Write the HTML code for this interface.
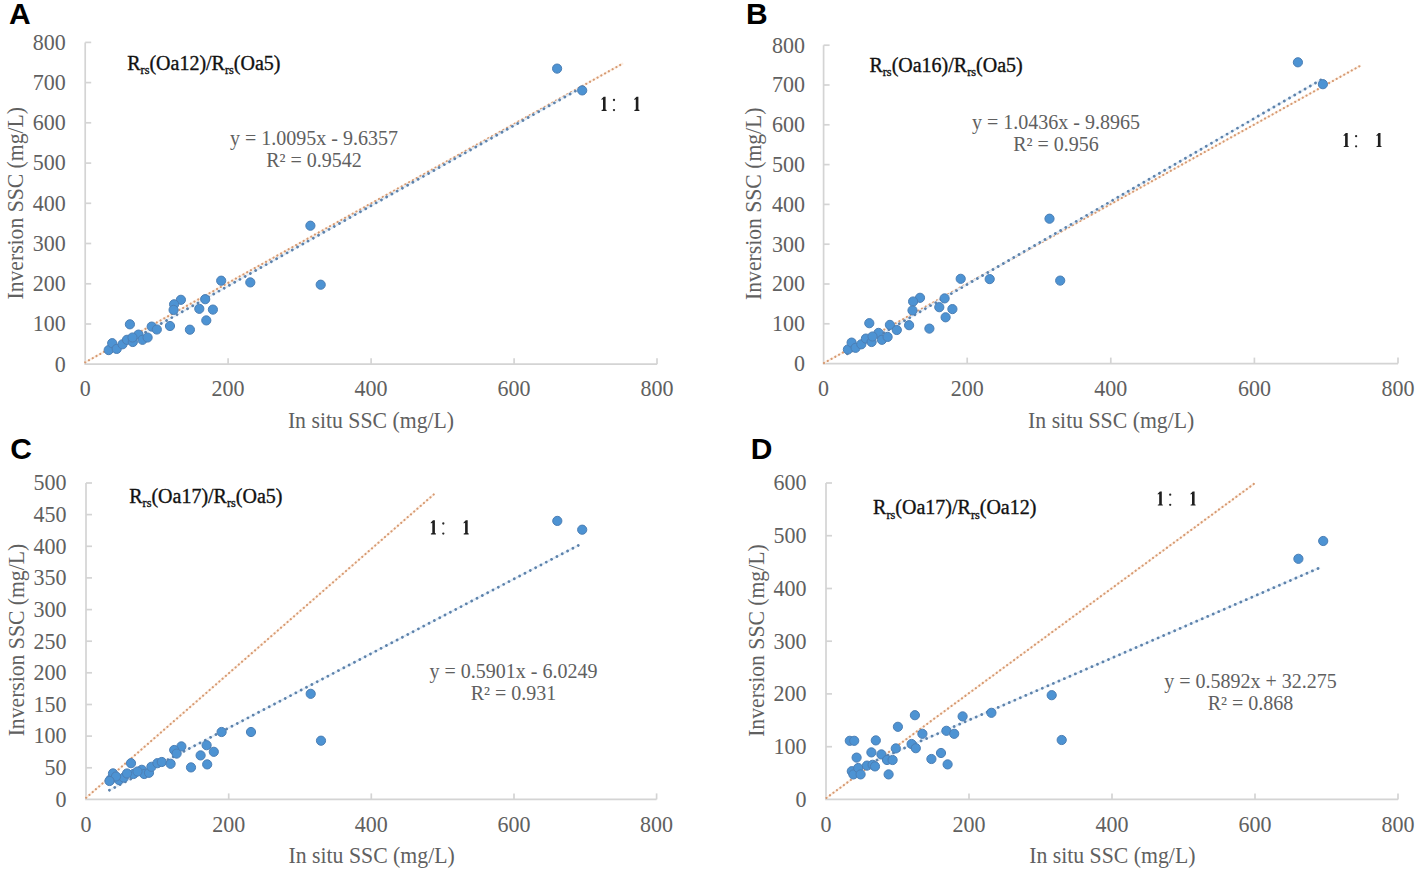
<!DOCTYPE html><html><head><meta charset="utf-8"><style>html,body{margin:0;padding:0;background:#fff;width:1417px;height:874px;overflow:hidden}svg{display:block}text{font-family:'Liberation Serif', serif}</style></head><body>
<svg width="1417" height="874" viewBox="0 0 1417 874">
<rect width="1417" height="874" fill="#fff"/>
<g><path d="M85.2 42.4V364.2H657.0" fill="none" stroke="#d4d4d4" stroke-width="1.7"/><text transform="translate(65.7,371.5) scale(1,1.07)" font-size="22" fill="#606060" stroke="#606060" stroke-width="0" text-anchor="end">0</text><path d="M85.2 324.0h6" stroke="#d4d4d4" stroke-width="1.7"/><text transform="translate(65.7,331.3) scale(1,1.07)" font-size="22" fill="#606060" stroke="#606060" stroke-width="0" text-anchor="end">100</text><path d="M85.2 283.8h6" stroke="#d4d4d4" stroke-width="1.7"/><text transform="translate(65.7,291.1) scale(1,1.07)" font-size="22" fill="#606060" stroke="#606060" stroke-width="0" text-anchor="end">200</text><path d="M85.2 243.5h6" stroke="#d4d4d4" stroke-width="1.7"/><text transform="translate(65.7,250.8) scale(1,1.07)" font-size="22" fill="#606060" stroke="#606060" stroke-width="0" text-anchor="end">300</text><path d="M85.2 203.3h6" stroke="#d4d4d4" stroke-width="1.7"/><text transform="translate(65.7,210.6) scale(1,1.07)" font-size="22" fill="#606060" stroke="#606060" stroke-width="0" text-anchor="end">400</text><path d="M85.2 163.1h6" stroke="#d4d4d4" stroke-width="1.7"/><text transform="translate(65.7,170.4) scale(1,1.07)" font-size="22" fill="#606060" stroke="#606060" stroke-width="0" text-anchor="end">500</text><path d="M85.2 122.8h6" stroke="#d4d4d4" stroke-width="1.7"/><text transform="translate(65.7,130.2) scale(1,1.07)" font-size="22" fill="#606060" stroke="#606060" stroke-width="0" text-anchor="end">600</text><path d="M85.2 82.6h6" stroke="#d4d4d4" stroke-width="1.7"/><text transform="translate(65.7,89.9) scale(1,1.07)" font-size="22" fill="#606060" stroke="#606060" stroke-width="0" text-anchor="end">700</text><path d="M85.2 42.4h6" stroke="#d4d4d4" stroke-width="1.7"/><text transform="translate(65.7,49.7) scale(1,1.07)" font-size="22" fill="#606060" stroke="#606060" stroke-width="0" text-anchor="end">800</text><text transform="translate(85.2,396.4) scale(1,1.07)" font-size="22" fill="#606060" stroke="#606060" stroke-width="0" text-anchor="middle">0</text><path d="M228.1 364.2v-6" stroke="#d4d4d4" stroke-width="1.7"/><text transform="translate(228.1,396.4) scale(1,1.07)" font-size="22" fill="#606060" stroke="#606060" stroke-width="0" text-anchor="middle">200</text><path d="M371.1 364.2v-6" stroke="#d4d4d4" stroke-width="1.7"/><text transform="translate(371.1,396.4) scale(1,1.07)" font-size="22" fill="#606060" stroke="#606060" stroke-width="0" text-anchor="middle">400</text><path d="M514.1 364.2v-6" stroke="#d4d4d4" stroke-width="1.7"/><text transform="translate(514.1,396.4) scale(1,1.07)" font-size="22" fill="#606060" stroke="#606060" stroke-width="0" text-anchor="middle">600</text><path d="M657.0 364.2v-6" stroke="#d4d4d4" stroke-width="1.7"/><text transform="translate(657.0,396.4) scale(1,1.07)" font-size="22" fill="#606060" stroke="#606060" stroke-width="0" text-anchor="middle">800</text><text transform="translate(371.0,427.7) scale(0.99,1.07)" font-size="22" fill="#606060" stroke="#606060" stroke-width="0" text-anchor="middle">In situ SSC (mg/L)</text><text transform="translate(22.6,203.3) rotate(-90) scale(0.985,1.07)" x="0" y="0" font-size="22" fill="#606060" stroke="#606060" stroke-width="0" text-anchor="middle">Inversion SSC (mg/L)</text><text x="9.0" y="24.0" font-size="30" font-weight="bold" fill="#000" style="font-family:'Liberation Sans',sans-serif">A</text><text x="127.2" y="69.6" font-size="20" fill="#111" stroke="#111" stroke-width="0.35">R<tspan font-size="12.3" dy="4.5">rs</tspan><tspan dy="-4.5">(Oa12)/R</tspan><tspan font-size="12.3" dy="4.5">rs</tspan><tspan dy="-4.5">(Oa5)</tspan></text><text x="314.0" y="144.8" font-size="20" fill="#606060" text-anchor="middle">y = 1.0095x - 9.6357</text><text x="314.0" y="167.2" font-size="20" fill="#606060" text-anchor="middle">R² = 0.9542</text><path d="M85.2 362.3L623.2 63.3" stroke="#fdf0e6" stroke-width="2.2" fill="none"/><path d="M85.2 362.3L623.2 63.3" stroke="#d69a72" stroke-width="2.2" stroke-dasharray="0.01 4.3" stroke-linecap="round" fill="none"/><path d="M108.9 352.9L583.0 86.8" stroke="#e6eff8" stroke-width="2.2" fill="none"/><path d="M108.9 352.9L583.0 86.8" stroke="#5d82ab" stroke-width="2.8" stroke-dasharray="0.01 6" stroke-linecap="round" fill="none"/><circle cx="108.7" cy="350.1" r="4.6" fill="#4d93d3" stroke="#4c7fb5" stroke-width="1"/><circle cx="112.2" cy="343.2" r="4.6" fill="#4d93d3" stroke="#4c7fb5" stroke-width="1"/><circle cx="116.7" cy="348.9" r="4.6" fill="#4d93d3" stroke="#4c7fb5" stroke-width="1"/><circle cx="122.5" cy="344.3" r="4.6" fill="#4d93d3" stroke="#4c7fb5" stroke-width="1"/><circle cx="127.0" cy="339.8" r="4.6" fill="#4d93d3" stroke="#4c7fb5" stroke-width="1"/><circle cx="132.8" cy="342.0" r="4.6" fill="#4d93d3" stroke="#4c7fb5" stroke-width="1"/><circle cx="138.5" cy="334.6" r="4.6" fill="#4d93d3" stroke="#4c7fb5" stroke-width="1"/><circle cx="142.5" cy="339.8" r="4.6" fill="#4d93d3" stroke="#4c7fb5" stroke-width="1"/><circle cx="147.6" cy="337.5" r="4.6" fill="#4d93d3" stroke="#4c7fb5" stroke-width="1"/><circle cx="151.7" cy="326.6" r="4.6" fill="#4d93d3" stroke="#4c7fb5" stroke-width="1"/><circle cx="156.8" cy="329.5" r="4.6" fill="#4d93d3" stroke="#4c7fb5" stroke-width="1"/><circle cx="129.9" cy="324.3" r="4.6" fill="#4d93d3" stroke="#4c7fb5" stroke-width="1"/><circle cx="170.0" cy="326.0" r="4.6" fill="#4d93d3" stroke="#4c7fb5" stroke-width="1"/><circle cx="189.9" cy="329.7" r="4.6" fill="#4d93d3" stroke="#4c7fb5" stroke-width="1"/><circle cx="206.3" cy="320.4" r="4.6" fill="#4d93d3" stroke="#4c7fb5" stroke-width="1"/><circle cx="212.9" cy="309.6" r="4.6" fill="#4d93d3" stroke="#4c7fb5" stroke-width="1"/><circle cx="199.3" cy="308.8" r="4.6" fill="#4d93d3" stroke="#4c7fb5" stroke-width="1"/><circle cx="205.2" cy="299.2" r="4.6" fill="#4d93d3" stroke="#4c7fb5" stroke-width="1"/><circle cx="180.9" cy="299.8" r="4.6" fill="#4d93d3" stroke="#4c7fb5" stroke-width="1"/><circle cx="174.1" cy="304.3" r="4.6" fill="#4d93d3" stroke="#4c7fb5" stroke-width="1"/><circle cx="173.6" cy="309.9" r="4.6" fill="#4d93d3" stroke="#4c7fb5" stroke-width="1"/><circle cx="221.2" cy="280.7" r="4.6" fill="#4d93d3" stroke="#4c7fb5" stroke-width="1"/><circle cx="250.3" cy="282.4" r="4.6" fill="#4d93d3" stroke="#4c7fb5" stroke-width="1"/><circle cx="132.5" cy="337.5" r="4.6" fill="#4d93d3" stroke="#4c7fb5" stroke-width="1"/><circle cx="310.4" cy="225.7" r="4.6" fill="#4d93d3" stroke="#4c7fb5" stroke-width="1"/><circle cx="320.7" cy="284.7" r="4.6" fill="#4d93d3" stroke="#4c7fb5" stroke-width="1"/><circle cx="582.2" cy="90.4" r="4.6" fill="#4d93d3" stroke="#4c7fb5" stroke-width="1"/><circle cx="557.1" cy="68.6" r="4.6" fill="#4d93d3" stroke="#4c7fb5" stroke-width="1"/><path transform="translate(601.6,96.7)" d="M2.1 0L4.0 0L4.0 12.8L5.0 13.4L5.0 14.2L0.0 14.2L0.0 13.4L1.4 12.8L1.4 2.6L-0.1 3.2L-0.1 2.4Z" fill="#1f1f1f"/><path transform="translate(634.4,96.7)" d="M2.1 0L4.0 0L4.0 12.8L5.0 13.4L5.0 14.2L0.0 14.2L0.0 13.4L1.4 12.8L1.4 2.6L-0.1 3.2L-0.1 2.4Z" fill="#1f1f1f"/><circle cx="614.0" cy="100.0" r="1.15" fill="#2a2a2a"/><circle cx="614.0" cy="110.1" r="1.15" fill="#2a2a2a"/></g>
<g><path d="M823.6 45.2V363.6H1398.0" fill="none" stroke="#d4d4d4" stroke-width="1.7"/><text transform="translate(805.0,370.9) scale(1,1.07)" font-size="22" fill="#606060" stroke="#606060" stroke-width="0" text-anchor="end">0</text><path d="M823.6 323.8h6" stroke="#d4d4d4" stroke-width="1.7"/><text transform="translate(805.0,331.1) scale(1,1.07)" font-size="22" fill="#606060" stroke="#606060" stroke-width="0" text-anchor="end">100</text><path d="M823.6 284.0h6" stroke="#d4d4d4" stroke-width="1.7"/><text transform="translate(805.0,291.3) scale(1,1.07)" font-size="22" fill="#606060" stroke="#606060" stroke-width="0" text-anchor="end">200</text><path d="M823.6 244.2h6" stroke="#d4d4d4" stroke-width="1.7"/><text transform="translate(805.0,251.5) scale(1,1.07)" font-size="22" fill="#606060" stroke="#606060" stroke-width="0" text-anchor="end">300</text><path d="M823.6 204.4h6" stroke="#d4d4d4" stroke-width="1.7"/><text transform="translate(805.0,211.7) scale(1,1.07)" font-size="22" fill="#606060" stroke="#606060" stroke-width="0" text-anchor="end">400</text><path d="M823.6 164.6h6" stroke="#d4d4d4" stroke-width="1.7"/><text transform="translate(805.0,171.9) scale(1,1.07)" font-size="22" fill="#606060" stroke="#606060" stroke-width="0" text-anchor="end">500</text><path d="M823.6 124.8h6" stroke="#d4d4d4" stroke-width="1.7"/><text transform="translate(805.0,132.1) scale(1,1.07)" font-size="22" fill="#606060" stroke="#606060" stroke-width="0" text-anchor="end">600</text><path d="M823.6 85.0h6" stroke="#d4d4d4" stroke-width="1.7"/><text transform="translate(805.0,92.3) scale(1,1.07)" font-size="22" fill="#606060" stroke="#606060" stroke-width="0" text-anchor="end">700</text><path d="M823.6 45.2h6" stroke="#d4d4d4" stroke-width="1.7"/><text transform="translate(805.0,52.5) scale(1,1.07)" font-size="22" fill="#606060" stroke="#606060" stroke-width="0" text-anchor="end">800</text><text transform="translate(823.6,395.8) scale(1,1.07)" font-size="22" fill="#606060" stroke="#606060" stroke-width="0" text-anchor="middle">0</text><path d="M967.2 363.6v-6" stroke="#d4d4d4" stroke-width="1.7"/><text transform="translate(967.2,395.8) scale(1,1.07)" font-size="22" fill="#606060" stroke="#606060" stroke-width="0" text-anchor="middle">200</text><path d="M1110.8 363.6v-6" stroke="#d4d4d4" stroke-width="1.7"/><text transform="translate(1110.8,395.8) scale(1,1.07)" font-size="22" fill="#606060" stroke="#606060" stroke-width="0" text-anchor="middle">400</text><path d="M1254.4 363.6v-6" stroke="#d4d4d4" stroke-width="1.7"/><text transform="translate(1254.4,395.8) scale(1,1.07)" font-size="22" fill="#606060" stroke="#606060" stroke-width="0" text-anchor="middle">600</text><path d="M1398.0 363.6v-6" stroke="#d4d4d4" stroke-width="1.7"/><text transform="translate(1398.0,395.8) scale(1,1.07)" font-size="22" fill="#606060" stroke="#606060" stroke-width="0" text-anchor="middle">800</text><text transform="translate(1111.2,427.5) scale(0.99,1.07)" font-size="22" fill="#606060" stroke="#606060" stroke-width="0" text-anchor="middle">In situ SSC (mg/L)</text><text transform="translate(761.3,203.7) rotate(-90) scale(0.985,1.07)" x="0" y="0" font-size="22" fill="#606060" stroke="#606060" stroke-width="0" text-anchor="middle">Inversion SSC (mg/L)</text><text x="746.0" y="24.0" font-size="30" font-weight="bold" fill="#000" style="font-family:'Liberation Sans',sans-serif">B</text><text x="869.4" y="71.6" font-size="20" fill="#111" stroke="#111" stroke-width="0.35">R<tspan font-size="12.3" dy="4.5">rs</tspan><tspan dy="-4.5">(Oa16)/R</tspan><tspan font-size="12.3" dy="4.5">rs</tspan><tspan dy="-4.5">(Oa5)</tspan></text><text x="1056.0" y="128.8" font-size="20" fill="#606060" text-anchor="middle">y = 1.0436x - 9.8965</text><text x="1056.0" y="151.3" font-size="20" fill="#606060" text-anchor="middle">R² = 0.956</text><path d="M824.0 363.0L1360.9 65.4" stroke="#fdf0e6" stroke-width="2.2" fill="none"/><path d="M824.0 363.0L1360.9 65.4" stroke="#d69a72" stroke-width="2.2" stroke-dasharray="0.01 4.3" stroke-linecap="round" fill="none"/><path d="M847.3 353.8L1321.9 79.3" stroke="#e6eff8" stroke-width="2.2" fill="none"/><path d="M847.3 353.8L1321.9 79.3" stroke="#5d82ab" stroke-width="2.8" stroke-dasharray="0.01 6" stroke-linecap="round" fill="none"/><circle cx="847.9" cy="349.5" r="4.6" fill="#4d93d3" stroke="#4c7fb5" stroke-width="1"/><circle cx="851.6" cy="342.6" r="4.6" fill="#4d93d3" stroke="#4c7fb5" stroke-width="1"/><circle cx="855.6" cy="347.8" r="4.6" fill="#4d93d3" stroke="#4c7fb5" stroke-width="1"/><circle cx="861.3" cy="344.3" r="4.6" fill="#4d93d3" stroke="#4c7fb5" stroke-width="1"/><circle cx="865.9" cy="338.6" r="4.6" fill="#4d93d3" stroke="#4c7fb5" stroke-width="1"/><circle cx="871.6" cy="342.0" r="4.6" fill="#4d93d3" stroke="#4c7fb5" stroke-width="1"/><circle cx="878.5" cy="332.9" r="4.6" fill="#4d93d3" stroke="#4c7fb5" stroke-width="1"/><circle cx="881.9" cy="339.8" r="4.6" fill="#4d93d3" stroke="#4c7fb5" stroke-width="1"/><circle cx="887.6" cy="336.9" r="4.6" fill="#4d93d3" stroke="#4c7fb5" stroke-width="1"/><circle cx="889.9" cy="324.9" r="4.6" fill="#4d93d3" stroke="#4c7fb5" stroke-width="1"/><circle cx="896.8" cy="330.0" r="4.6" fill="#4d93d3" stroke="#4c7fb5" stroke-width="1"/><circle cx="869.3" cy="323.2" r="4.6" fill="#4d93d3" stroke="#4c7fb5" stroke-width="1"/><circle cx="909.1" cy="325.2" r="4.6" fill="#4d93d3" stroke="#4c7fb5" stroke-width="1"/><circle cx="929.4" cy="328.6" r="4.6" fill="#4d93d3" stroke="#4c7fb5" stroke-width="1"/><circle cx="945.6" cy="317.3" r="4.6" fill="#4d93d3" stroke="#4c7fb5" stroke-width="1"/><circle cx="952.4" cy="309.1" r="4.6" fill="#4d93d3" stroke="#4c7fb5" stroke-width="1"/><circle cx="939.3" cy="307.2" r="4.6" fill="#4d93d3" stroke="#4c7fb5" stroke-width="1"/><circle cx="944.6" cy="298.4" r="4.6" fill="#4d93d3" stroke="#4c7fb5" stroke-width="1"/><circle cx="920.0" cy="297.8" r="4.6" fill="#4d93d3" stroke="#4c7fb5" stroke-width="1"/><circle cx="913.1" cy="301.5" r="4.6" fill="#4d93d3" stroke="#4c7fb5" stroke-width="1"/><circle cx="912.5" cy="310.4" r="4.6" fill="#4d93d3" stroke="#4c7fb5" stroke-width="1"/><circle cx="960.7" cy="278.8" r="4.6" fill="#4d93d3" stroke="#4c7fb5" stroke-width="1"/><circle cx="989.7" cy="279.1" r="4.6" fill="#4d93d3" stroke="#4c7fb5" stroke-width="1"/><circle cx="872.5" cy="336.5" r="4.6" fill="#4d93d3" stroke="#4c7fb5" stroke-width="1"/><circle cx="1049.5" cy="218.7" r="4.6" fill="#4d93d3" stroke="#4c7fb5" stroke-width="1"/><circle cx="1060.2" cy="280.6" r="4.6" fill="#4d93d3" stroke="#4c7fb5" stroke-width="1"/><circle cx="1322.9" cy="84.2" r="4.6" fill="#4d93d3" stroke="#4c7fb5" stroke-width="1"/><circle cx="1297.9" cy="62.3" r="4.6" fill="#4d93d3" stroke="#4c7fb5" stroke-width="1"/><path transform="translate(1343.7,132.9)" d="M2.1 0L4.0 0L4.0 12.8L5.0 13.4L5.0 14.2L0.0 14.2L0.0 13.4L1.4 12.8L1.4 2.6L-0.1 3.2L-0.1 2.4Z" fill="#1f1f1f"/><path transform="translate(1376.5,132.9)" d="M2.1 0L4.0 0L4.0 12.8L5.0 13.4L5.0 14.2L0.0 14.2L0.0 13.4L1.4 12.8L1.4 2.6L-0.1 3.2L-0.1 2.4Z" fill="#1f1f1f"/><circle cx="1356.1" cy="136.2" r="1.15" fill="#2a2a2a"/><circle cx="1356.1" cy="146.3" r="1.15" fill="#2a2a2a"/></g>
<g><path d="M86.0 483.0V799.4H656.6" fill="none" stroke="#d4d4d4" stroke-width="1.7"/><text transform="translate(66.5,806.7) scale(1,1.07)" font-size="22" fill="#606060" stroke="#606060" stroke-width="0" text-anchor="end">0</text><path d="M86.0 767.8h6" stroke="#d4d4d4" stroke-width="1.7"/><text transform="translate(66.5,775.1) scale(1,1.07)" font-size="22" fill="#606060" stroke="#606060" stroke-width="0" text-anchor="end">50</text><path d="M86.0 736.1h6" stroke="#d4d4d4" stroke-width="1.7"/><text transform="translate(66.5,743.4) scale(1,1.07)" font-size="22" fill="#606060" stroke="#606060" stroke-width="0" text-anchor="end">100</text><path d="M86.0 704.5h6" stroke="#d4d4d4" stroke-width="1.7"/><text transform="translate(66.5,711.8) scale(1,1.07)" font-size="22" fill="#606060" stroke="#606060" stroke-width="0" text-anchor="end">150</text><path d="M86.0 672.8h6" stroke="#d4d4d4" stroke-width="1.7"/><text transform="translate(66.5,680.1) scale(1,1.07)" font-size="22" fill="#606060" stroke="#606060" stroke-width="0" text-anchor="end">200</text><path d="M86.0 641.2h6" stroke="#d4d4d4" stroke-width="1.7"/><text transform="translate(66.5,648.5) scale(1,1.07)" font-size="22" fill="#606060" stroke="#606060" stroke-width="0" text-anchor="end">250</text><path d="M86.0 609.6h6" stroke="#d4d4d4" stroke-width="1.7"/><text transform="translate(66.5,616.9) scale(1,1.07)" font-size="22" fill="#606060" stroke="#606060" stroke-width="0" text-anchor="end">300</text><path d="M86.0 577.9h6" stroke="#d4d4d4" stroke-width="1.7"/><text transform="translate(66.5,585.2) scale(1,1.07)" font-size="22" fill="#606060" stroke="#606060" stroke-width="0" text-anchor="end">350</text><path d="M86.0 546.3h6" stroke="#d4d4d4" stroke-width="1.7"/><text transform="translate(66.5,553.6) scale(1,1.07)" font-size="22" fill="#606060" stroke="#606060" stroke-width="0" text-anchor="end">400</text><path d="M86.0 514.6h6" stroke="#d4d4d4" stroke-width="1.7"/><text transform="translate(66.5,521.9) scale(1,1.07)" font-size="22" fill="#606060" stroke="#606060" stroke-width="0" text-anchor="end">450</text><path d="M86.0 483.0h6" stroke="#d4d4d4" stroke-width="1.7"/><text transform="translate(66.5,490.3) scale(1,1.07)" font-size="22" fill="#606060" stroke="#606060" stroke-width="0" text-anchor="end">500</text><text transform="translate(86.0,831.6) scale(1,1.07)" font-size="22" fill="#606060" stroke="#606060" stroke-width="0" text-anchor="middle">0</text><path d="M228.7 799.4v-6" stroke="#d4d4d4" stroke-width="1.7"/><text transform="translate(228.7,831.6) scale(1,1.07)" font-size="22" fill="#606060" stroke="#606060" stroke-width="0" text-anchor="middle">200</text><path d="M371.3 799.4v-6" stroke="#d4d4d4" stroke-width="1.7"/><text transform="translate(371.3,831.6) scale(1,1.07)" font-size="22" fill="#606060" stroke="#606060" stroke-width="0" text-anchor="middle">400</text><path d="M514.0 799.4v-6" stroke="#d4d4d4" stroke-width="1.7"/><text transform="translate(514.0,831.6) scale(1,1.07)" font-size="22" fill="#606060" stroke="#606060" stroke-width="0" text-anchor="middle">600</text><path d="M656.6 799.4v-6" stroke="#d4d4d4" stroke-width="1.7"/><text transform="translate(656.6,831.6) scale(1,1.07)" font-size="22" fill="#606060" stroke="#606060" stroke-width="0" text-anchor="middle">800</text><text transform="translate(371.6,863.2) scale(0.99,1.07)" font-size="22" fill="#606060" stroke="#606060" stroke-width="0" text-anchor="middle">In situ SSC (mg/L)</text><text transform="translate(23.5,640.1) rotate(-90) scale(0.985,1.07)" x="0" y="0" font-size="22" fill="#606060" stroke="#606060" stroke-width="0" text-anchor="middle">Inversion SSC (mg/L)</text><text x="10.3" y="459.4" font-size="30" font-weight="bold" fill="#000" style="font-family:'Liberation Sans',sans-serif">C</text><text x="129.2" y="502.9" font-size="20" fill="#111" stroke="#111" stroke-width="0.35">R<tspan font-size="12.3" dy="4.5">rs</tspan><tspan dy="-4.5">(Oa17)/R</tspan><tspan font-size="12.3" dy="4.5">rs</tspan><tspan dy="-4.5">(Oa5)</tspan></text><text x="513.5" y="677.8" font-size="20" fill="#606060" text-anchor="middle">y = 0.5901x - 6.0249</text><text x="513.5" y="699.9" font-size="20" fill="#606060" text-anchor="middle">R² = 0.931</text><path d="M86.2 797.7L434.0 494.2" stroke="#fdf0e6" stroke-width="2.2" fill="none"/><path d="M86.2 797.7L434.0 494.2" stroke="#d69a72" stroke-width="2.2" stroke-dasharray="0.01 4.3" stroke-linecap="round" fill="none"/><path d="M109.4 790.2L579.1 545.0" stroke="#e6eff8" stroke-width="2.2" fill="none"/><path d="M109.4 790.2L579.1 545.0" stroke="#5d82ab" stroke-width="2.8" stroke-dasharray="0.01 6" stroke-linecap="round" fill="none"/><circle cx="110.6" cy="779.4" r="4.6" fill="#4d93d3" stroke="#4c7fb5" stroke-width="1"/><circle cx="113.0" cy="773.4" r="4.6" fill="#4d93d3" stroke="#4c7fb5" stroke-width="1"/><circle cx="119.0" cy="780.0" r="4.6" fill="#4d93d3" stroke="#4c7fb5" stroke-width="1"/><circle cx="123.8" cy="777.6" r="4.6" fill="#4d93d3" stroke="#4c7fb5" stroke-width="1"/><circle cx="131.0" cy="763.2" r="4.6" fill="#4d93d3" stroke="#4c7fb5" stroke-width="1"/><circle cx="133.4" cy="774.0" r="4.6" fill="#4d93d3" stroke="#4c7fb5" stroke-width="1"/><circle cx="141.8" cy="769.8" r="4.6" fill="#4d93d3" stroke="#4c7fb5" stroke-width="1"/><circle cx="144.2" cy="774.0" r="4.6" fill="#4d93d3" stroke="#4c7fb5" stroke-width="1"/><circle cx="149.0" cy="772.8" r="4.6" fill="#4d93d3" stroke="#4c7fb5" stroke-width="1"/><circle cx="151.4" cy="766.8" r="4.6" fill="#4d93d3" stroke="#4c7fb5" stroke-width="1"/><circle cx="157.4" cy="763.2" r="4.6" fill="#4d93d3" stroke="#4c7fb5" stroke-width="1"/><circle cx="127.0" cy="773.5" r="4.6" fill="#4d93d3" stroke="#4c7fb5" stroke-width="1"/><circle cx="137.5" cy="771.5" r="4.6" fill="#4d93d3" stroke="#4c7fb5" stroke-width="1"/><circle cx="116.0" cy="776.5" r="4.6" fill="#4d93d3" stroke="#4c7fb5" stroke-width="1"/><circle cx="161.8" cy="762.0" r="4.6" fill="#4d93d3" stroke="#4c7fb5" stroke-width="1"/><circle cx="109.5" cy="781.0" r="4.6" fill="#4d93d3" stroke="#4c7fb5" stroke-width="1"/><circle cx="170.6" cy="763.8" r="4.6" fill="#4d93d3" stroke="#4c7fb5" stroke-width="1"/><circle cx="191.0" cy="767.4" r="4.6" fill="#4d93d3" stroke="#4c7fb5" stroke-width="1"/><circle cx="207.2" cy="764.4" r="4.6" fill="#4d93d3" stroke="#4c7fb5" stroke-width="1"/><circle cx="200.6" cy="755.4" r="4.6" fill="#4d93d3" stroke="#4c7fb5" stroke-width="1"/><circle cx="213.8" cy="751.8" r="4.6" fill="#4d93d3" stroke="#4c7fb5" stroke-width="1"/><circle cx="206.6" cy="745.2" r="4.6" fill="#4d93d3" stroke="#4c7fb5" stroke-width="1"/><circle cx="181.4" cy="746.4" r="4.6" fill="#4d93d3" stroke="#4c7fb5" stroke-width="1"/><circle cx="174.2" cy="750.0" r="4.6" fill="#4d93d3" stroke="#4c7fb5" stroke-width="1"/><circle cx="176.6" cy="753.6" r="4.6" fill="#4d93d3" stroke="#4c7fb5" stroke-width="1"/><circle cx="221.6" cy="732.0" r="4.6" fill="#4d93d3" stroke="#4c7fb5" stroke-width="1"/><circle cx="251.0" cy="732.0" r="4.6" fill="#4d93d3" stroke="#4c7fb5" stroke-width="1"/><circle cx="310.7" cy="693.8" r="4.6" fill="#4d93d3" stroke="#4c7fb5" stroke-width="1"/><circle cx="321.0" cy="740.7" r="4.6" fill="#4d93d3" stroke="#4c7fb5" stroke-width="1"/><circle cx="557.3" cy="520.9" r="4.6" fill="#4d93d3" stroke="#4c7fb5" stroke-width="1"/><circle cx="582.2" cy="529.7" r="4.6" fill="#4d93d3" stroke="#4c7fb5" stroke-width="1"/><path transform="translate(430.9,520.2)" d="M2.1 0L4.0 0L4.0 12.8L5.0 13.4L5.0 14.2L0.0 14.2L0.0 13.4L1.4 12.8L1.4 2.6L-0.1 3.2L-0.1 2.4Z" fill="#1f1f1f"/><path transform="translate(463.7,520.2)" d="M2.1 0L4.0 0L4.0 12.8L5.0 13.4L5.0 14.2L0.0 14.2L0.0 13.4L1.4 12.8L1.4 2.6L-0.1 3.2L-0.1 2.4Z" fill="#1f1f1f"/><circle cx="443.3" cy="523.5" r="1.15" fill="#2a2a2a"/><circle cx="443.3" cy="533.6" r="1.15" fill="#2a2a2a"/></g>
<g><path d="M826.0 483.0V799.4H1398.0" fill="none" stroke="#d4d4d4" stroke-width="1.7"/><text transform="translate(806.5,806.7) scale(1,1.07)" font-size="22" fill="#606060" stroke="#606060" stroke-width="0" text-anchor="end">0</text><path d="M826.0 746.7h6" stroke="#d4d4d4" stroke-width="1.7"/><text transform="translate(806.5,754.0) scale(1,1.07)" font-size="22" fill="#606060" stroke="#606060" stroke-width="0" text-anchor="end">100</text><path d="M826.0 693.9h6" stroke="#d4d4d4" stroke-width="1.7"/><text transform="translate(806.5,701.2) scale(1,1.07)" font-size="22" fill="#606060" stroke="#606060" stroke-width="0" text-anchor="end">200</text><path d="M826.0 641.2h6" stroke="#d4d4d4" stroke-width="1.7"/><text transform="translate(806.5,648.5) scale(1,1.07)" font-size="22" fill="#606060" stroke="#606060" stroke-width="0" text-anchor="end">300</text><path d="M826.0 588.5h6" stroke="#d4d4d4" stroke-width="1.7"/><text transform="translate(806.5,595.8) scale(1,1.07)" font-size="22" fill="#606060" stroke="#606060" stroke-width="0" text-anchor="end">400</text><path d="M826.0 535.7h6" stroke="#d4d4d4" stroke-width="1.7"/><text transform="translate(806.5,543.0) scale(1,1.07)" font-size="22" fill="#606060" stroke="#606060" stroke-width="0" text-anchor="end">500</text><path d="M826.0 483.0h6" stroke="#d4d4d4" stroke-width="1.7"/><text transform="translate(806.5,490.3) scale(1,1.07)" font-size="22" fill="#606060" stroke="#606060" stroke-width="0" text-anchor="end">600</text><text transform="translate(826.0,831.6) scale(1,1.07)" font-size="22" fill="#606060" stroke="#606060" stroke-width="0" text-anchor="middle">0</text><path d="M969.0 799.4v-6" stroke="#d4d4d4" stroke-width="1.7"/><text transform="translate(969.0,831.6) scale(1,1.07)" font-size="22" fill="#606060" stroke="#606060" stroke-width="0" text-anchor="middle">200</text><path d="M1112.0 799.4v-6" stroke="#d4d4d4" stroke-width="1.7"/><text transform="translate(1112.0,831.6) scale(1,1.07)" font-size="22" fill="#606060" stroke="#606060" stroke-width="0" text-anchor="middle">400</text><path d="M1255.0 799.4v-6" stroke="#d4d4d4" stroke-width="1.7"/><text transform="translate(1255.0,831.6) scale(1,1.07)" font-size="22" fill="#606060" stroke="#606060" stroke-width="0" text-anchor="middle">600</text><path d="M1398.0 799.4v-6" stroke="#d4d4d4" stroke-width="1.7"/><text transform="translate(1398.0,831.6) scale(1,1.07)" font-size="22" fill="#606060" stroke="#606060" stroke-width="0" text-anchor="middle">800</text><text transform="translate(1112.3,863.2) scale(0.99,1.07)" font-size="22" fill="#606060" stroke="#606060" stroke-width="0" text-anchor="middle">In situ SSC (mg/L)</text><text transform="translate(763.7,640.6) rotate(-90) scale(0.985,1.07)" x="0" y="0" font-size="22" fill="#606060" stroke="#606060" stroke-width="0" text-anchor="middle">Inversion SSC (mg/L)</text><text x="750.8" y="459.4" font-size="30" font-weight="bold" fill="#000" style="font-family:'Liberation Sans',sans-serif">D</text><text x="873.1" y="514.1" font-size="20" fill="#111" stroke="#111" stroke-width="0.35">R<tspan font-size="12.3" dy="4.5">rs</tspan><tspan dy="-4.5">(Oa17)/R</tspan><tspan font-size="12.3" dy="4.5">rs</tspan><tspan dy="-4.5">(Oa12)</tspan></text><text x="1250.5" y="687.6" font-size="20" fill="#606060" text-anchor="middle">y = 0.5892x + 32.275</text><text x="1250.5" y="710.2" font-size="20" fill="#606060" text-anchor="middle">R² = 0.868</text><path d="M826.5 797.8L1254.4 483.5" stroke="#fdf0e6" stroke-width="2.2" fill="none"/><path d="M826.5 797.8L1254.4 483.5" stroke="#d69a72" stroke-width="2.2" stroke-dasharray="0.01 4.3" stroke-linecap="round" fill="none"/><path d="M849.4 772.0L1320.0 567.6" stroke="#e6eff8" stroke-width="2.2" fill="none"/><path d="M849.4 772.0L1320.0 567.6" stroke="#5d82ab" stroke-width="2.8" stroke-dasharray="0.01 6" stroke-linecap="round" fill="none"/><circle cx="849.8" cy="740.8" r="4.6" fill="#4d93d3" stroke="#4c7fb5" stroke-width="1"/><circle cx="854.2" cy="740.8" r="4.6" fill="#4d93d3" stroke="#4c7fb5" stroke-width="1"/><circle cx="856.6" cy="757.6" r="4.6" fill="#4d93d3" stroke="#4c7fb5" stroke-width="1"/><circle cx="871.4" cy="752.4" r="4.6" fill="#4d93d3" stroke="#4c7fb5" stroke-width="1"/><circle cx="875.8" cy="740.4" r="4.6" fill="#4d93d3" stroke="#4c7fb5" stroke-width="1"/><circle cx="897.9" cy="726.8" r="4.6" fill="#4d93d3" stroke="#4c7fb5" stroke-width="1"/><circle cx="895.8" cy="748.4" r="4.6" fill="#4d93d3" stroke="#4c7fb5" stroke-width="1"/><circle cx="881.4" cy="754.4" r="4.6" fill="#4d93d3" stroke="#4c7fb5" stroke-width="1"/><circle cx="887.0" cy="760.0" r="4.6" fill="#4d93d3" stroke="#4c7fb5" stroke-width="1"/><circle cx="892.6" cy="760.0" r="4.6" fill="#4d93d3" stroke="#4c7fb5" stroke-width="1"/><circle cx="888.6" cy="774.4" r="4.6" fill="#4d93d3" stroke="#4c7fb5" stroke-width="1"/><circle cx="851.8" cy="771.2" r="4.6" fill="#4d93d3" stroke="#4c7fb5" stroke-width="1"/><circle cx="853.4" cy="774.4" r="4.6" fill="#4d93d3" stroke="#4c7fb5" stroke-width="1"/><circle cx="858.2" cy="768.0" r="4.6" fill="#4d93d3" stroke="#4c7fb5" stroke-width="1"/><circle cx="860.6" cy="774.4" r="4.6" fill="#4d93d3" stroke="#4c7fb5" stroke-width="1"/><circle cx="867.0" cy="765.6" r="4.6" fill="#4d93d3" stroke="#4c7fb5" stroke-width="1"/><circle cx="872.6" cy="764.8" r="4.6" fill="#4d93d3" stroke="#4c7fb5" stroke-width="1"/><circle cx="875.0" cy="766.4" r="4.6" fill="#4d93d3" stroke="#4c7fb5" stroke-width="1"/><circle cx="911.6" cy="744.0" r="4.6" fill="#4d93d3" stroke="#4c7fb5" stroke-width="1"/><circle cx="915.8" cy="748.2" r="4.6" fill="#4d93d3" stroke="#4c7fb5" stroke-width="1"/><circle cx="914.9" cy="715.2" r="4.6" fill="#4d93d3" stroke="#4c7fb5" stroke-width="1"/><circle cx="922.4" cy="733.8" r="4.6" fill="#4d93d3" stroke="#4c7fb5" stroke-width="1"/><circle cx="931.4" cy="759.0" r="4.6" fill="#4d93d3" stroke="#4c7fb5" stroke-width="1"/><circle cx="941.0" cy="753.0" r="4.6" fill="#4d93d3" stroke="#4c7fb5" stroke-width="1"/><circle cx="947.6" cy="764.4" r="4.6" fill="#4d93d3" stroke="#4c7fb5" stroke-width="1"/><circle cx="946.4" cy="730.8" r="4.6" fill="#4d93d3" stroke="#4c7fb5" stroke-width="1"/><circle cx="954.2" cy="733.8" r="4.6" fill="#4d93d3" stroke="#4c7fb5" stroke-width="1"/><circle cx="962.6" cy="716.4" r="4.6" fill="#4d93d3" stroke="#4c7fb5" stroke-width="1"/><circle cx="991.4" cy="712.8" r="4.6" fill="#4d93d3" stroke="#4c7fb5" stroke-width="1"/><circle cx="1051.7" cy="695.2" r="4.6" fill="#4d93d3" stroke="#4c7fb5" stroke-width="1"/><circle cx="1061.7" cy="740.0" r="4.6" fill="#4d93d3" stroke="#4c7fb5" stroke-width="1"/><circle cx="1298.4" cy="558.8" r="4.6" fill="#4d93d3" stroke="#4c7fb5" stroke-width="1"/><circle cx="1323.2" cy="541.0" r="4.6" fill="#4d93d3" stroke="#4c7fb5" stroke-width="1"/><path transform="translate(1157.8,491.4)" d="M2.1 0L4.0 0L4.0 12.8L5.0 13.4L5.0 14.2L0.0 14.2L0.0 13.4L1.4 12.8L1.4 2.6L-0.1 3.2L-0.1 2.4Z" fill="#1f1f1f"/><path transform="translate(1190.6,491.4)" d="M2.1 0L4.0 0L4.0 12.8L5.0 13.4L5.0 14.2L0.0 14.2L0.0 13.4L1.4 12.8L1.4 2.6L-0.1 3.2L-0.1 2.4Z" fill="#1f1f1f"/><circle cx="1170.2" cy="494.7" r="1.15" fill="#2a2a2a"/><circle cx="1170.2" cy="504.8" r="1.15" fill="#2a2a2a"/></g>
</svg></body></html>
